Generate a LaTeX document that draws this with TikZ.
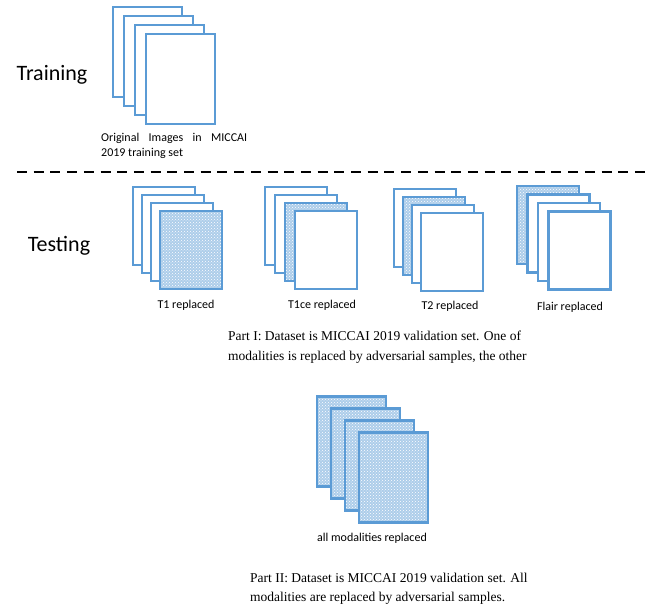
\documentclass[tikz,border=0pt]{standalone}
\usepackage{fontspec}
\setmainfont{Liberation Serif}
\newfontfamily\calibri{Carlito}
\usepackage{tikz}
\usetikzlibrary{shapes,patterns}
\definecolor{sheetblue}{HTML}{5B9BD5}
\tikzset{
  sheet/.style={rectangle, draw=sheetblue, line width=2.2pt, fill=white, inner sep=0pt},
  bigsheet/.style={minimum width=69pt, minimum height=90pt},
  smallsheet/.style={minimum width=62pt, minimum height=78pt},
  adversarial/.style={preaction={fill=sheetblue!50}, pattern=crosshatch dots, pattern color=white}
}
\newcommand{\plainsheet}[3] {\node at (#1) (#2) [sheet, #3] {};}
\newcommand{\advsheet}[3] {\node at (#1) (#2) [sheet, adversarial, #3] {};}
\newcommand{\stacklabel}[3] {\node at (#1) (#2) [font=\calibri\fontsize{12}{14}\selectfont] {#3};}

\begin{document}
\begin{tikzpicture}[x=1pt,y=-1pt]
\useasboundingbox (0,0) rectangle (654,608);

% training
\node at (52,75) (training) [font=\calibri\fontsize{22}{26}\selectfont] {Training};
\plainsheet {147.5,52}{train1}{bigsheet}
\plainsheet {158.5,61}{train2}{bigsheet}
\plainsheet {169.5,70}{train3}{bigsheet}
\plainsheet {180.5,79}{train4}{bigsheet}
\node at (101,145.5) (trainlabel) [anchor=west, inner sep=0pt, text width=146pt, align=justify,
  font=\calibri\fontsize{12}{15}\selectfont] {Original Images in MICCAI 2019 training set};

\coordinate (cutleft) at (17,172);
\coordinate (cutright) at (645,172);
\draw [line width=2.5pt, dash pattern=on 10pt off 6.7pt] (cutleft) -- (cutright);

% testing, part I
\node at (59,246) (testing) [font=\calibri\fontsize{22}{26}\selectfont] {Testing};

\plainsheet {164,226}{tone1}{smallsheet}
\plainsheet {173,234}{tone2}{smallsheet}
\plainsheet {182,242}{tone3}{smallsheet}
\advsheet {191,250}{tone4}{smallsheet}
\stacklabel {186,305}{tonelabel}{T1 replaced}

\plainsheet {296,226}{tonece1}{smallsheet}
\plainsheet {306,234}{tonece2}{smallsheet}
\advsheet {316,242}{tonece3}{smallsheet}
\plainsheet {326,250}{tonece4}{smallsheet}
\stacklabel {322,305}{tonecelabel}{T1ce replaced}

\plainsheet {425,228}{ttwo1}{smallsheet}
\advsheet {434,236}{ttwo2}{smallsheet}
\plainsheet {443,244}{ttwo3}{smallsheet}
\plainsheet {452,252}{ttwo4}{smallsheet}
\stacklabel {450,306}{ttwolabel}{T2 replaced}

\advsheet {548,225}{flair1}{smallsheet}
\plainsheet {558.5,233.5}{flair2}{smallsheet}
\plainsheet {569,242}{flair3}{smallsheet}
\plainsheet {579.5,250.5}{flair4}{smallsheet}
\stacklabel {570,307}{flairlabel}{Flair replaced}

\node at (228,347) (partone) [anchor=west, inner sep=0pt, align=left, font=\fontsize{13.5}{20}\selectfont]
  {Part I: Dataset is MICCAI 2019 validation set. One of\\ modalities is replaced by adversarial samples, the other};

% testing, part II
\advsheet {351.5,441.5}{all1}{bigsheet}
\advsheet {365.5,453.5}{all2}{bigsheet}
\advsheet {379.5,465.5}{all3}{bigsheet}
\advsheet {393.5,477.5}{all4}{bigsheet}
\stacklabel {372,538}{alllabel}{all modalities replaced}

\node at (250,589) (parttwo) [anchor=west, inner sep=0pt, align=left, font=\fontsize{13.5}{19}\selectfont]
  {Part II: Dataset is MICCAI 2019 validation set. All\\ modalities are replaced by adversarial samples.};

\end{tikzpicture}
\end{document}
